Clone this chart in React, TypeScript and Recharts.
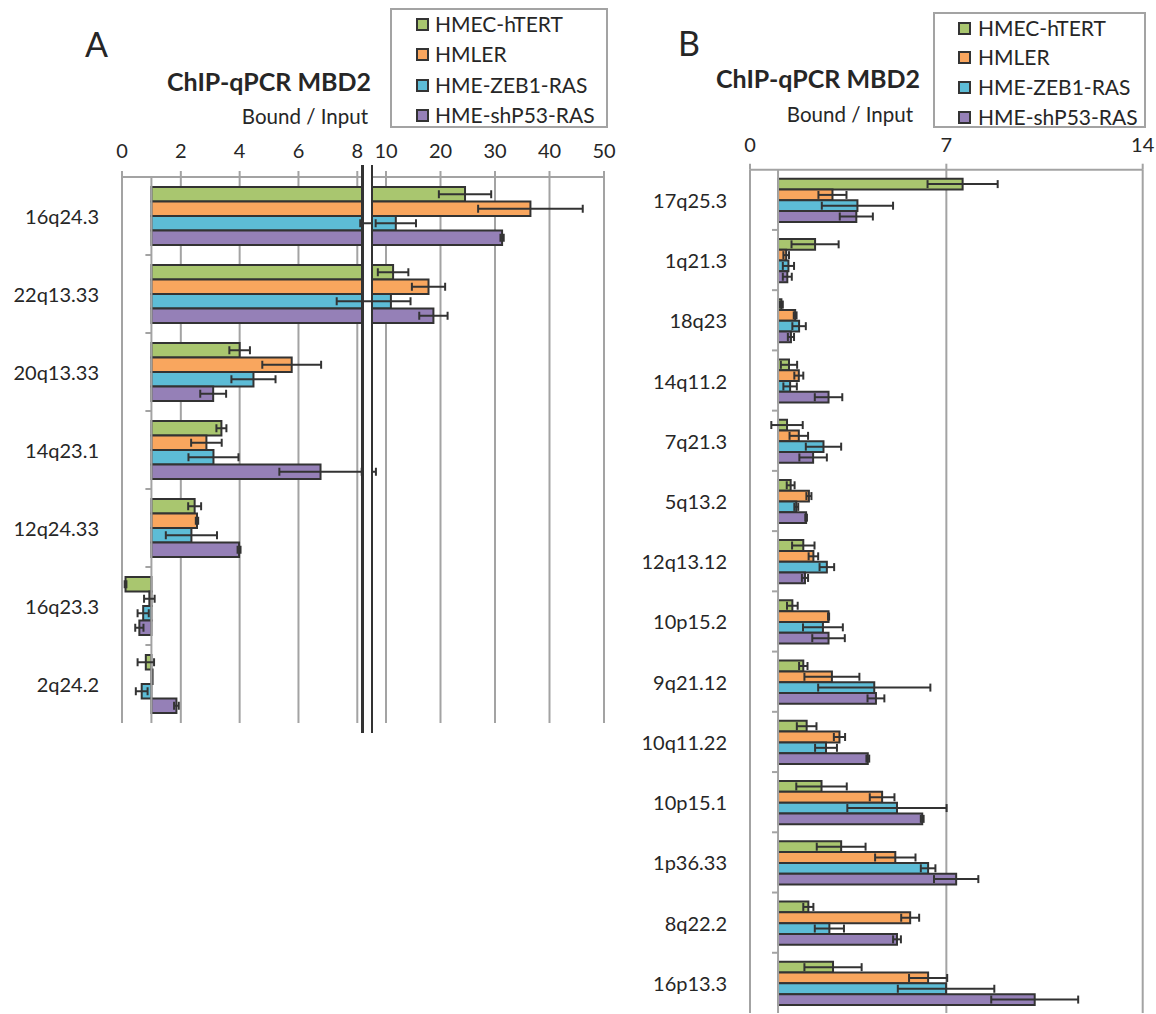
import React from 'react';
import { BarChart, Bar, XAxis, YAxis, CartesianGrid, ErrorBar, ReferenceLine } from 'recharts';

// ---------- series ----------
const SERIES_NAMES = ['HMEC-hTERT', 'HMLER', 'HME-ZEB1-RAS', 'HME-shP53-RAS'];
const SERIES_KEYS = ['hmec', 'hmler', 'zeb', 'p53'];
const SERIES_COLORS = ['#A9C66F', '#F9A65E', '#5DBCD6', '#9580B7'];
const BASELINE = 1;

// ---------- panel A ----------
const A_LOCI = ['16q24.3', '22q13.33', '20q13.33', '14q23.1', '12q24.33', '16q23.3', '2q24.2'];
const A_HMEC = [24.5, 11.3, 4.0, 3.38, 2.47, 0.12, 0.81];
const A_HMEC_ERR = [4.8, 2.8, 0.35, 0.17, 0.22, 0.03, 0.28];
const A_HMLER = [36.5, 17.8, 5.77, 2.87, 2.55, 0.93, 1.04];
const A_HMLER_ERR = [9.6, 3.05, 1.0, 0.52, 0.04, 0.18, 0];
const A_ZEB = [11.8, 10.9, 4.47, 3.11, 2.36, 0.72, 0.67];
const A_ZEB_ERR = [3.7, 3.6, 0.75, 0.85, 0.87, 0.19, 0.2];
const A_P53 = [31.3, 18.7, 3.1, 6.75, 3.98, 0.59, 1.85];
const A_P53_ERR = [0.3, 2.6, 0.44, 1.4, 0.05, 0.14, 0.08];
const A_TICKS_LOW = [0, 2, 4, 6, 8];
const A_TICKS_HIGH = [10, 20, 30, 40, 50];

// ---------- panel B ----------
const B_LOCI = ['17q25.3', '1q21.3', '18q23', '14q11.2', '7q21.3', '5q13.2', '12q13.12', '10p15.2', '9q21.12', '10q11.22', '10p15.1', '1p36.33', '8q22.2', '16p13.3'];
const B_HMEC = [7.58, 2.32, 1.12, 1.39, 1.32, 1.45, 1.9, 1.51, 1.9, 2.02, 2.55, 3.25, 2.08, 2.96];
const B_HMEC_ERR = [1.25, 0.84, 0.05, 0.29, 0.56, 0.14, 0.4, 0.19, 0.15, 0.35, 0.9, 0.87, 0.18, 1.02];
const B_HMLER = [2.94, 1.29, 1.61, 1.74, 1.74, 2.1, 2.26, 2.8, 2.92, 3.19, 4.71, 5.18, 5.71, 6.35];
const B_HMLER_ERR = [0.5, 0.1, 0.05, 0.16, 0.33, 0.09, 0.17, 0.02, 0.98, 0.2, 0.44, 0.72, 0.32, 0.68];
const B_ZEB = [3.83, 1.37, 1.75, 1.43, 2.62, 1.65, 2.74, 2.6, 4.43, 2.71, 5.24, 6.35, 2.83, 6.99];
const B_ZEB_ERR = [1.27, 0.2, 0.24, 0.24, 0.63, 0.07, 0.26, 0.71, 2.0, 0.39, 1.77, 0.26, 0.52, 1.72];
const B_P53 = [3.79, 1.33, 1.46, 2.8, 2.25, 2.0, 1.96, 2.8, 4.49, 4.2, 6.14, 7.35, 5.24, 10.15];
const B_P53_ERR = [0.59, 0.16, 0.11, 0.49, 0.49, 0.03, 0.11, 0.58, 0.3, 0.05, 0.05, 0.79, 0.14, 1.55];
const B_TICKS = [0, 7, 14];

const GRID = '#a3a3a3';
const INK = '#333333';
const TEXT = '#262626';

function buildRows(loci: string[], values: number[][], errors: number[][]) {
  return loci.map((locus, i) => {
    const row: any = { locus };
    SERIES_KEYS.forEach((k, s) => {
      row[k] = [BASELINE, values[s][i]];
      row[k + 'Err'] = errors[s][i];
    });
    return row;
  });
}

const A_ROWS = buildRows(A_LOCI, [A_HMEC, A_HMLER, A_ZEB, A_P53], [A_HMEC_ERR, A_HMLER_ERR, A_ZEB_ERR, A_P53_ERR]);
const B_ROWS = buildRows(B_LOCI, [B_HMEC, B_HMLER, B_ZEB, B_P53], [B_HMEC_ERR, B_HMLER_ERR, B_ZEB_ERR, B_P53_ERR]);

function renderBars(barSize: number) {
  return SERIES_KEYS.map((k, s) => (
    <Bar
      key={k}
      dataKey={k}
      name={SERIES_NAMES[s]}
      fill={SERIES_COLORS[s]}
      stroke={INK}
      strokeWidth={2}
      barSize={barSize}
      isAnimationActive={false}
    >
      <ErrorBar dataKey={k + 'Err'} direction="x" width={4} stroke={INK} strokeWidth={2} />
    </Bar>
  ));
}

function makeLocusTick(gap: number, basePx: number, band: number) {
  return (props: any) => {
    const { x, y, payload, index } = props;
    return (
      <g>
        <text x={x - gap} y={y} textAnchor="end" dominantBaseline="central" fontSize={20} fill={TEXT}>
          {payload.value}
        </text>
        {index > 0 && (
          <line x1={x + basePx - 6} x2={x + basePx} y1={y - band / 2} y2={y - band / 2} stroke={GRID} strokeWidth={2} />
        )}
      </g>
    );
  };
}

const axisTick = { fontSize: 20, fill: TEXT };
const axisLine = { stroke: GRID, strokeWidth: 2 };

function Label({ text, left, right, cy, size, bold }: any) {
  const style: any = {
    position: 'absolute',
    top: cy - 0.63 * size,
    fontSize: size,
    lineHeight: '1.2',
    fontWeight: bold ? 700 : 400,
    color: TEXT,
    whiteSpace: 'nowrap',
  };
  if (left !== undefined) style.left = left;
  if (right !== undefined) style.right = right;
  return <div style={style}>{text}</div>;
}

function LegendBox({ left, top, width, height, rowStart, rowStep, squareLeft, textLeft }: any) {
  return (
    <div
      style={{
        position: 'absolute',
        left,
        top,
        width,
        height,
        boxSizing: 'border-box',
        border: `2px solid ${GRID}`,
        background: '#fff',
      }}
    >
      {SERIES_NAMES.map((name, i) => {
        const cy = rowStart + rowStep * i;
        return (
          <React.Fragment key={name}>
            <div
              style={{
                position: 'absolute',
                left: squareLeft - 2,
                top: cy - 2 - 6.5,
                width: 13,
                height: 13,
                boxSizing: 'border-box',
                background: SERIES_COLORS[i],
                border: `2px solid ${INK}`,
              }}
            />
            <div
              style={{
                position: 'absolute',
                left: textLeft - 2,
                top: cy - 2 - 0.63 * 21,
                fontSize: 21,
                lineHeight: '1.2',
                color: TEXT,
                whiteSpace: 'nowrap',
              }}
            >
              {name}
            </div>
          </React.Fragment>
        );
      })}
    </div>
  );
}

const breakLine = (left: number): any => ({
  position: 'absolute',
  left,
  top: 165,
  width: 2.4,
  height: 568,
  background: INK,
});

export default function App() {
  return (
    <div
      style={{
        position: 'absolute',
        left: 0,
        top: 0,
        width: 1156,
        height: 1014,
        overflow: 'hidden',
        background: '#fff',
        fontFamily: 'Lato, "Open Sans", sans-serif',
      }}
    >
      {/* Panel A titles */}
      <Label text="A" left={85} cy={45} size={34} />
      <Label text="ChIP-qPCR MBD2" left={167} cy={82} size={25} bold />
      <Label text="Bound / Input" right={1156 - 368} cy={117} size={20.5} />
      <LegendBox left={390} top={8} width={218} height={120} rowStart={16} rowStep={30.5} squareLeft={26} textLeft={45} />

      {/* Panel A left segment */}
      <div style={{ position: 'absolute', left: 0, top: 0 }}>
        <BarChart layout="vertical" width={372} height={730} data={A_ROWS} margin={{ top: 147, right: 10, bottom: 7, left: 0 }} barGap={0}>
          <CartesianGrid horizontal={false} stroke={GRID} strokeWidth={2} />
          <XAxis
            type="number"
            orientation="top"
            height={30}
            domain={[0, 8.16]}
            ticks={A_TICKS_LOW}
            allowDataOverflow
            axisLine={axisLine}
            tickLine={axisLine}
            tickSize={6}
            tickMargin={13}
            tick={axisTick}
            interval={0}
          />
          <XAxis
            xAxisId="bottom"
            type="number"
            orientation="bottom"
            height={0}
            domain={[0, 8.16]}
            allowDataOverflow
            tick={false}
            tickLine={false}
            axisLine={axisLine}
          />
          <YAxis
            type="category"
            dataKey="locus"
            width={122}
            axisLine={false}
            tickLine={false}
            tickSize={0}
            tickMargin={0}
            interval={0}
            tick={makeLocusTick(23, 29.4, 78)}
          />
          <ReferenceLine x={BASELINE} stroke={GRID} strokeWidth={2} />
          {renderBars(14.5)}
        </BarChart>
      </div>

      {/* Panel A right segment */}
      <div style={{ position: 'absolute', left: 372, top: 0 }}>
        <BarChart layout="vertical" width={252} height={730} data={A_ROWS} margin={{ top: 147, right: 20, bottom: 7, left: 0 }} barGap={0}>
          <CartesianGrid horizontal={false} stroke={GRID} strokeWidth={2} />
          <XAxis
            type="number"
            orientation="top"
            height={30}
            domain={[7.43, 50]}
            ticks={A_TICKS_HIGH}
            allowDataOverflow
            axisLine={axisLine}
            tickLine={axisLine}
            tickSize={6}
            tickMargin={13}
            tick={axisTick}
            interval={0}
          />
          <XAxis
            xAxisId="bottom"
            type="number"
            orientation="bottom"
            height={0}
            domain={[7.43, 50]}
            allowDataOverflow
            tick={false}
            tickLine={false}
            axisLine={axisLine}
          />
          <YAxis type="category" dataKey="locus" hide />
          {renderBars(14.5)}
        </BarChart>
      </div>

      <div style={breakLine(361.3)} />
      <div style={breakLine(370.8)} />

      {/* Panel B titles */}
      <Label text="B" left={678} cy={44} size={34} />
      <Label text="ChIP-qPCR MBD2" left={716} cy={79} size={25} bold />
      <Label text="Bound / Input" right={1156 - 913} cy={115} size={20.5} />
      <LegendBox left={933} top={12} width={213} height={116} rowStart={16} rowStep={29.7} squareLeft={25} textLeft={45} />

      {/* Panel B chart */}
      <div style={{ position: 'absolute', left: 620, top: 0 }}>
        <BarChart layout="vertical" width={536} height={1014} data={B_ROWS} margin={{ top: 139.7, right: 13.3, bottom: 1, left: 0 }} barGap={0}>
          <CartesianGrid horizontal={false} stroke={GRID} strokeWidth={2} />
          <XAxis
            type="number"
            orientation="top"
            height={30}
            domain={[0, 14]}
            ticks={B_TICKS}
            allowDataOverflow
            axisLine={axisLine}
            tickLine={axisLine}
            tickSize={6}
            tickMargin={12}
            tick={axisTick}
            interval={0}
          />
          <XAxis
            xAxisId="bottom"
            type="number"
            orientation="bottom"
            height={0}
            domain={[0, 14]}
            allowDataOverflow
            tick={false}
            tickLine={false}
            axisLine={axisLine}
          />
          <YAxis
            type="category"
            dataKey="locus"
            width={130}
            axisLine={false}
            tickLine={false}
            tickSize={0}
            tickMargin={0}
            interval={0}
            tick={makeLocusTick(23, 28, 60.24)}
          />
          <ReferenceLine x={BASELINE} stroke={GRID} strokeWidth={2} />
          {renderBars(10.8)}
        </BarChart>
      </div>
    </div>
  );
}
